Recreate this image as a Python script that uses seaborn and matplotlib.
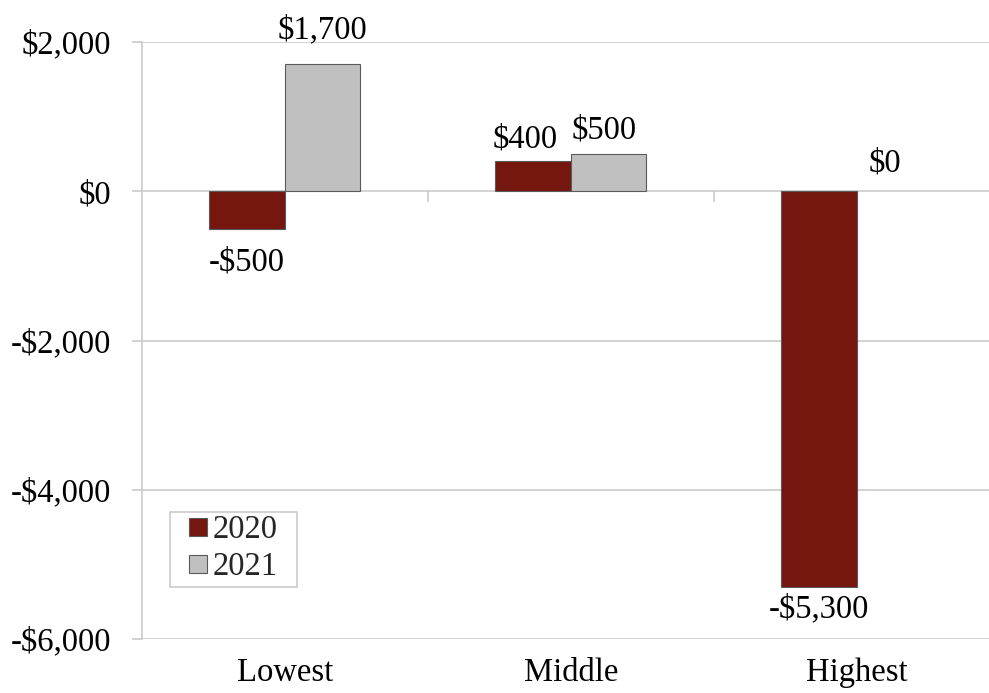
import matplotlib
matplotlib.use("Agg")
import matplotlib.pyplot as plt
import seaborn as sns
import pandas as pd
from matplotlib.lines import Line2D
from matplotlib.patches import Rectangle
from matplotlib.ticker import FuncFormatter

categories = ["Lowest", "Middle", "Highest"]
years = ["2020", "2021"]
values_2020 = [-500, 400, -5300]
values_2021 = [1700, 500, 0]
yticks = [-6000, -4000, -2000, 0, 2000]
colors = {"2020": "#75160f", "2021": "#c0c0c0"}

df = pd.DataFrame({
    "group": categories * 2,
    "year": [years[0]] * 3 + [years[1]] * 3,
    "value": values_2020 + values_2021,
})

sns.set_style("white")
plt.rcParams["font.family"] = ["Liberation Serif", "DejaVu Serif"]
FS = 23.5
GRID = "#c6c6c6"

def money(v, pos=None):
    v = int(round(v))
    s = f"${abs(v):,}"
    return "-" + s if v < 0 else s

fig = plt.figure(figsize=(9.89, 6.93), dpi=100)
ax = fig.add_axes([141.7 / 989, 54 / 693, 858.3 / 989, 597 / 693])

sns.barplot(data=df, x="group", y="value", hue="year", order=categories,
            hue_order=years, palette=colors, width=0.528, saturation=1,
            edgecolor="#5a5a5a", linewidth=0.8, errorbar=None, ax=ax,
            legend=False, zorder=3)

ax.set_xlim(-0.5, len(categories) - 0.5)
ax.set_ylim(min(yticks), max(yticks))
ax.set_yticks(yticks)
ax.yaxis.set_major_formatter(FuncFormatter(money))
ax.set_xlabel("")
ax.set_ylabel("")
ax.grid(axis="y", color=GRID, linewidth=1.1, zorder=0)
ax.grid(axis="x", visible=False)
for s in ["top", "right", "bottom"]:
    ax.spines[s].set_visible(False)
ax.spines["left"].set_color(GRID)
ax.spines["left"].set_linewidth(1.1)
ax.tick_params(axis="y", length=7, width=1.1, color=GRID, pad=15,
               labelsize=FS, labelcolor="black", left=True)
ax.tick_params(axis="x", length=0, pad=13, labelsize=FS, labelcolor="black")

# category separator ticks on the zero line
ax.vlines([i + 0.5 for i in range(len(categories) - 1)], -147, 0,
          color=GRID, linewidth=1.1, zorder=2)

# value labels
all_vals = [values_2020, values_2021]
offsets = [
    [(0, -30), (-6, 10), (0, -22)],
    [(0, 19), (-3, 11), (-7, 14)],
]
for ci, cont in enumerate(ax.containers):
    for bi, bar in enumerate(cont):
        v = all_vals[ci][bi]
        if v == 0:
            bar.set_linewidth(0)
        xc = bar.get_x() + bar.get_width() / 2
        dx, dy = offsets[ci][bi]
        ax.annotate(money(v), (xc, v), xytext=(dx, dy),
                    textcoords="offset points", ha="center", va="baseline",
                    fontsize=FS, color="black", zorder=5)

handles = [Line2D([], [], marker="s", linestyle="none", markersize=12.5,
                  markerfacecolor=colors[y], markeredgecolor="#5a5a5a",
                  markeredgewidth=0.8) for y in years]
leg = ax.legend(handles, years, loc="lower left",
                bbox_to_anchor=(28.3 / 858.3, 55 / 597), borderaxespad=0,
                fontsize=FS, frameon=False, borderpad=0.05,
                labelspacing=0.21, handlelength=1.6, handletextpad=-0.35)
leg.set_zorder(6)
ax.add_patch(Rectangle((28.3 / 858.3, 52 / 597), 127 / 858.3, 75 / 597,
                       transform=ax.transAxes, facecolor="white",
                       edgecolor=GRID, linewidth=1.1, zorder=5.5))

fig.savefig("out.png", dpi=100)
